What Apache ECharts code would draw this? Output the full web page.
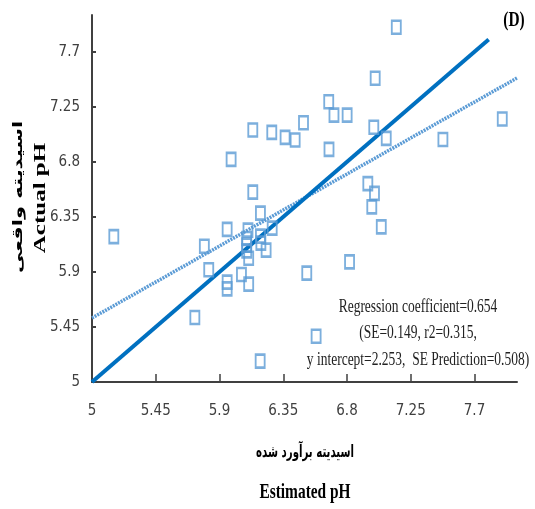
<!DOCTYPE html>
<html>
<head>
<meta charset="utf-8">
<script src="https://cdn.jsdelivr.net/npm/echarts@6/dist/echarts.min.js"></script>
<style>html,body{margin:0;padding:0;background:#fff;}#c{width:535px;height:509px;}</style>
</head>
<body>
<div id="c"></div>
<script>
// Estimated pH (x) vs actual pH (y)
const estimatedPH = [5.154,5.726,5.793,5.824,5.954,5.954,5.954,5.982,6.055,6.101,6.092,6.092,6.092,6.106,6.106,6.135,6.135,6.189,6.189,6.192,6.229,6.187,6.272,6.269,6.363,6.434,6.493,6.516,6.582,6.671,6.673,6.708,6.801,6.818,6.947,6.975,6.989,6.994,6.999,7.042,7.077,7.148,7.477,7.896];
const actualPH    = [6.188,5.527,6.110,5.918,6.248,5.816,5.761,6.820,5.879,6.241,6.173,6.119,6.072,6.012,5.800,7.060,6.552,6.381,6.192,6.135,6.078,5.171,6.258,7.041,7.000,6.978,7.119,5.890,5.374,7.291,6.902,7.182,7.182,5.982,6.622,6.432,7.082,6.542,7.483,6.268,6.992,7.900,6.982,7.150];
const identityLine   = [[5, 5], [7.8, 7.8]];
const regressionLine = [[5, 5.523], [8, 7.485]];
const tickValues = [5, 5.45, 5.9, 6.35, 6.8, 7.25, 7.7];
const statsLines = ['Regression coefficient=0.654', '(SE=0.149, r2=0.315,', 'y intercept=2.253,  SE Prediction=0.508)'];

const points = estimatedPH.map((x, i) => [x, actualPH[i]]);
const chart = echarts.init(document.getElementById('c'));
const labelFont = {fontFamily: '"Liberation Sans Narrow","Arial Narrow","DejaVu Sans Condensed",sans-serif', fontSize: 15, color: '#404040'};
const axisCommon = {
  type: 'value', min: 5, max: 8,
  axisLine: {show: true, lineStyle: {color: '#404040', width: 2}},
  splitLine: {show: false},
};
chart.setOption({
  animation: false,
  grid: {left: 92, right: 18, top: 15, bottom: 127, containLabel: false},
  xAxis: Object.assign({}, axisCommon, {
    axisTick: {show: true, inside: true, length: 8, lineStyle: {color: '#404040', width: 1.5}, customValues: tickValues},
    axisLabel: Object.assign({margin: 22, customValues: tickValues, formatter: v => String(v)}, labelFont)
  }),
  yAxis: Object.assign({}, axisCommon, {
    axisTick: {show: true, inside: true, length: 4, lineStyle: {color: '#404040', width: 2}, customValues: tickValues},
    axisLabel: Object.assign({margin: 12, customValues: tickValues, formatter: v => String(v)}, labelFont)
  }),
  series: [
    {type: 'line', data: regressionLine, symbol: 'none', z: 2,
     lineStyle: {color: '#5B9BD5', width: 3.5, type: [2, 1]}},
    {type: 'line', data: identityLine, symbol: 'none', z: 3,
     lineStyle: {color: '#0070C0', width: 4}},
    {type: 'scatter', data: points, symbol: 'rect', symbolSize: [9, 13], z: 5,
     itemStyle: {color: 'rgba(255,255,255,0)', borderColor: '#5B9BD5', borderWidth: 2.2}}
  ],
  graphic: [
    {type: 'text', x: 514, y: 20, scaleX: 0.7, style: {text: '(D)', font: 'bold 22px "Liberation Serif", serif', fill: '#000', align: 'center', verticalAlign: 'middle'}},
    {type: 'text', x: 418, y: 307, scaleX: 0.71, style: {text: statsLines[0], font: '19px "Liberation Serif", serif', fill: '#222', align: 'center', verticalAlign: 'middle'}},
    {type: 'text', x: 418, y: 333, scaleX: 0.71, style: {text: statsLines[1], font: '19px "Liberation Serif", serif', fill: '#222', align: 'center', verticalAlign: 'middle'}},
    {type: 'text', x: 418, y: 360, scaleX: 0.71, style: {text: statsLines[2], font: '19px "Liberation Serif", serif', fill: '#222', align: 'center', verticalAlign: 'middle'}},
    {type: 'text', x: 305, y: 453, scaleX: 0.6, style: {text: 'اسیدیته برآورد شده', font: 'bold 17px "DejaVu Sans", sans-serif', fill: '#000', align: 'center', verticalAlign: 'middle'}},
    {type: 'text', x: 305, y: 492, scaleX: 0.7, style: {text: 'Estimated pH', font: 'bold 22px "Liberation Serif", serif', fill: '#000', align: 'center', verticalAlign: 'middle'}},
    {type: 'text', x: 40, y: 198, rotation: Math.PI / 2, scaleY: 0.7, style: {text: 'Actual pH', font: 'bold 25px "Liberation Serif", serif', fill: '#000', align: 'center', verticalAlign: 'middle'}},
    {type: 'text', x: 18, y: 197, rotation: Math.PI / 2, scaleY: 0.65, style: {text: 'اسیدیته واقعی', font: 'bold 21px "DejaVu Sans", sans-serif', fill: '#000', align: 'center', verticalAlign: 'middle'}}
  ]
});
</script>
</body>
</html>
